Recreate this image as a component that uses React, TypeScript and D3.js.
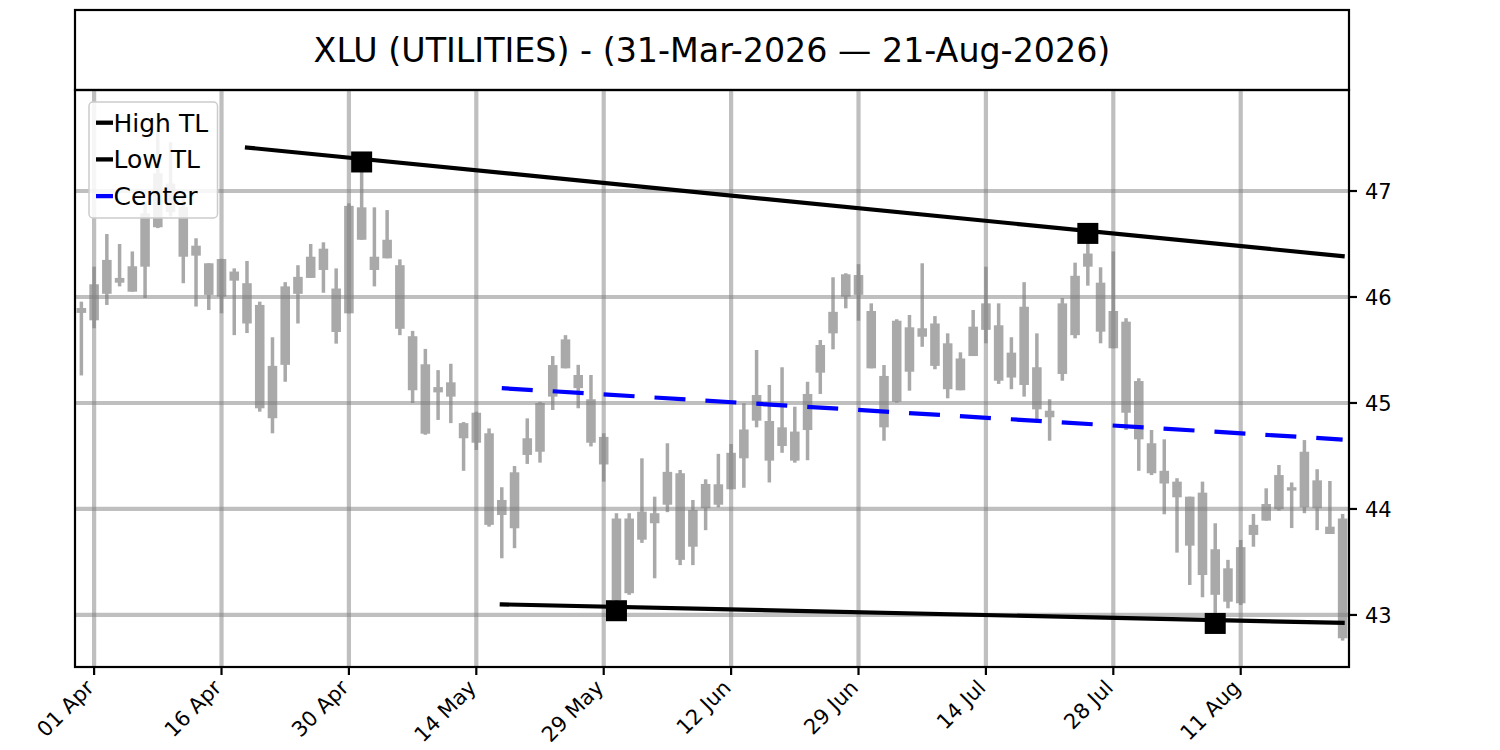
import * as d3 from "d3";

const W = 1500;
const H = 750;

// trading calendar: 31 Mar 2026 .. 21 Aug 2026, NYSE holidays skipped
const holidays = ["2026-04-03", "2026-05-25", "2026-06-19", "2026-07-03"];
const iso = d3.timeFormat("%Y-%m-%d");
const dates = d3.timeDay
  .range(new Date(2026, 2, 31), new Date(2026, 7, 22))
  .filter((d) => d.getDay() !== 0 && d.getDay() !== 6 && !holidays.includes(iso(d)))
  .map(iso);

const open = [
  45.896, 45.78, 46.03, 46.18, 46.05, 46.286, 46.658, 46.8, 46.85, 46.484,
  46.318, 46.003, 46.154, 46.13, 45.925, 45.35, 45.36, 46.03, 46.18, 46.255,
  46.08, 45.846, 46.54, 46.38, 46.365, 46.3, 45.63, 45.365, 45.1, 45.06,
  44.81, 44.625, 44.714, 44.085, 43.818, 44.51, 44.54, 45.06, 45.327, 45.264,
  45.035, 44.68, 43.91, 43.205, 43.71, 43.865, 44.04, 44.337, 43.99, 44.007,
  44.04, 44.186, 44.478, 44.833, 44.83, 44.594, 44.73, 44.745, 45.286, 45.657,
  46.003, 46.207, 45.868, 45.255, 45.012, 45.295, 45.625, 45.75, 45.563, 45.42,
  45.443, 45.69, 45.733, 45.475, 45.17, 45.337, 44.927, 45.274, 45.64, 46.286,
  46.135, 45.868, 45.767, 45.207, 44.62, 44.36, 44.258, 44.116, 44.154, 43.62,
  43.44, 43.11, 43.755, 43.89, 43.997, 44.173, 44.016, 44.27, 43.833, 43.91,
];
const high = [
  45.956, 46.286, 46.594, 46.5, 46.43, 46.9, 47.575, 47.46, 46.97, 46.554,
  46.318, 46.36, 46.27, 46.34, 45.956, 45.62, 46.14, 46.3, 46.5, 46.516,
  46.27, 46.884, 47.274, 46.846, 46.82, 46.355, 45.68, 45.51, 45.31, 45.37,
  44.82, 44.918, 44.76, 44.205, 44.405, 44.855, 45.01, 45.443, 45.64, 45.36,
  45.264, 44.714, 43.96, 43.96, 44.478, 44.116, 44.62, 44.368, 44.085, 44.28,
  44.52, 44.613, 44.997, 45.5, 45.17, 45.337, 44.965, 45.2, 45.594, 46.186,
  46.224, 46.31, 45.94, 45.358, 45.79, 45.83, 46.318, 45.82, 45.657, 45.478,
  45.877, 46.286, 45.94, 45.62, 46.14, 45.657, 45.035, 45.99, 46.324, 46.6,
  46.28, 46.43, 45.8, 45.233, 44.745, 44.657, 44.29, 44.116, 44.258, 43.865,
  43.52, 43.708, 43.953, 44.195, 44.415, 44.25, 44.65, 44.375, 44.264, 43.953,
];
const low = [
  45.26, 45.705, 45.925, 46.1, 46.05, 45.99, 46.65, 46.76, 46.13, 45.91,
  45.877, 45.846, 45.64, 45.66, 44.918, 44.714, 45.2, 45.75, 46.18, 46.04,
  45.56, 45.846, 46.54, 46.1, 46.365, 45.64, 45.0, 44.7, 44.84, 44.81,
  44.36, 44.557, 43.833, 43.535, 43.63, 44.425, 44.437, 44.934, 45.327, 44.95,
  44.59, 44.258, 43.04, 43.19, 43.68, 43.346, 43.97, 43.47, 43.47, 43.8,
  44.016, 44.186, 44.2, 44.77, 44.25, 44.53, 44.437, 44.46, 45.085, 45.506,
  45.893, 45.776, 45.327, 44.644, 45.003, 45.116, 45.53, 45.318, 45.044, 45.12,
  45.443, 45.563, 45.18, 45.13, 45.06, 44.814, 44.644, 45.21, 45.61, 46.107,
  45.563, 45.516, 44.745, 44.36, 44.32, 43.95, 43.588, 43.283, 43.167, 42.92,
  43.063, 43.094, 43.644, 43.89, 43.984, 43.82, 43.96, 43.8, 43.764, 42.758,
];
const close = [
  45.85, 46.12, 46.35, 46.135, 46.29, 46.79, 47.167, 47.07, 46.38, 46.39,
  46.02, 46.358, 46.24, 45.75, 44.95, 44.856, 46.1, 46.19, 46.38, 46.456,
  45.67, 46.86, 46.846, 46.255, 46.54, 45.7, 45.12, 44.71, 45.15, 45.195,
  44.667, 44.908, 43.85, 43.943, 44.346, 44.667, 45.0, 45.358, 45.6, 45.14,
  44.625, 44.42, 43.14, 43.91, 43.975, 43.96, 44.35, 43.52, 43.644, 44.236,
  44.233, 44.53, 44.75, 45.075, 44.456, 44.77, 44.456, 45.085, 45.547, 45.86,
  46.214, 46.02, 45.327, 44.77, 45.776, 45.714, 45.705, 45.35, 45.13, 45.12,
  45.72, 45.94, 45.21, 45.24, 45.908, 44.94, 44.865, 45.94, 46.2, 46.41,
  45.673, 45.516, 44.908, 44.657, 44.337, 44.24, 44.11, 43.654, 43.377, 43.19,
  43.125, 43.64, 43.85, 44.047, 44.32, 44.205, 44.54, 44.007, 43.764, 42.78,
];

// trend lines (start / end) and the pivots they were drawn through
const highTL: [string, number][] = [["2026-04-20", 47.41], ["2026-08-21", 46.385]];
const lowTL: [string, number][] = [["2026-05-18", 43.1], ["2026-08-21", 42.925]];
const centerTL: [string, number][] = [["2026-05-18", 45.14], ["2026-08-21", 44.655]];
const highPivots = ["2026-05-01", "2026-07-24"];
const lowPivots = ["2026-06-01", "2026-08-07"];

const tickLabels = ["01 Apr", "16 Apr", "30 Apr", "14 May", "29 May", "12 Jun", "29 Jun", "14 Jul", "28 Jul", "11 Aug"];
const yTicks = [43, 44, 45, 46, 47];
const title = "XLU (UTILITIES) - (31-Mar-2026 \u2014 21-Aug-2026)";

const legendItems = [
  { label: "High TL", color: "#000000" },
  { label: "Low TL", color: "#000000" },
  { label: "Center", color: "#0000ff" },
];

const M = { left: 75, right: 1349, top: 90, bottom: 667, titleTop: 10 };
const FONT = "DejaVu Sans, sans-serif";
const CANDLE = "#a9a9a9";

export default function App() {
  const x = d3
    .scaleBand<string>()
    .domain(dates)
    .range([M.left, M.right])
    .paddingInner(0.25)
    .paddingOuter(0.125);
  const bw = x.bandwidth();
  const cx = (d: string) => (x(d) ?? 0) + bw / 2;

  const y = d3.scaleLinear().domain([42.509, 47.953]).range([M.bottom, M.top]);

  const line = d3
    .line<[string, number]>()
    .x((d) => cx(d[0]))
    .y((d) => y(d[1]));

  const fmtTick = d3.timeFormat("%d %b");
  const parse = d3.timeParse("%Y-%m-%d");
  const ticks = tickLabels.map((lab) => ({
    lab,
    d: dates.find((d) => fmtTick(parse(d)!) === lab)!,
  }));

  const idx = (d: string) => dates.indexOf(d);

  return (
    <svg
      width={W}
      height={H}
      style={{ position: "absolute", left: 0, top: 0, background: "#fff" }}
      fontFamily={FONT}
    >
      <rect x={0} y={0} width={W} height={H} fill="#fff" />

      {/* title box */}
      <rect
        x={M.left}
        y={M.titleTop}
        width={M.right - M.left}
        height={M.top - M.titleTop}
        fill="none"
        stroke="#000"
        strokeWidth={2.2}
      />
      <text x={(M.left + M.right) / 2} y={62} textAnchor="middle" fontSize={33.3} fill="#000">
        {title}
      </text>

      <defs>
        <clipPath id="plot">
          <rect x={M.left} y={M.top} width={M.right - M.left} height={M.bottom - M.top} />
        </clipPath>
      </defs>

      <g clipPath="url(#plot)">
        {/* candles */}
        {dates.map((d, i) => (
          <rect
            key={"w" + d}
            x={cx(d) - 1.75}
            y={y(high[i])}
            width={3.5}
            height={y(low[i]) - y(high[i])}
            fill={CANDLE}
          />
        ))}
        {dates.map((d, i) => {
          const top = y(Math.max(open[i], close[i]));
          const bot = y(Math.min(open[i], close[i]));
          return (
            <rect
              key={"b" + d}
              x={x(d)}
              y={top}
              width={bw}
              height={Math.max(bot - top, 1.5)}
              fill={CANDLE}
            />
          );
        })}

        {/* grid */}
        <g stroke="#808080" strokeOpacity={0.5} strokeWidth={4.2}>
          {ticks.map((t) => (
            <line key={t.lab} x1={cx(t.d)} x2={cx(t.d)} y1={M.top} y2={M.bottom} />
          ))}
          {yTicks.map((v) => (
            <line key={v} x1={M.left} x2={M.right} y1={y(v)} y2={y(v)} />
          ))}
        </g>

        {/* trend lines */}
        <path d={line(highTL)!} fill="none" stroke="#000" strokeWidth={4.2} strokeLinecap="square" />
        <path d={line(lowTL)!} fill="none" stroke="#000" strokeWidth={4.2} strokeLinecap="square" />
        <path
          d={line(centerTL)!}
          fill="none"
          stroke="#0000ff"
          strokeWidth={4.2}
          strokeDasharray="31 20"
        />

        {/* pivot markers */}
        {highPivots.map((d) => (
          <rect key={d} x={cx(d) - 10.5} y={y(high[idx(d)]) - 10.5} width={21} height={21} fill="#000" />
        ))}
        {lowPivots.map((d) => (
          <rect key={d} x={cx(d) - 10.5} y={y(low[idx(d)]) - 10.5} width={21} height={21} fill="#000" />
        ))}
      </g>

      {/* legend */}
      <g>
        <rect
          x={89}
          y={102}
          width={128.5}
          height={116}
          rx={4}
          fill="#fff"
          fillOpacity={0.85}
          stroke="#cccccc"
          strokeWidth={1.5}
        />
        {legendItems.map((it, i) => (
          <g key={it.label} transform={`translate(0, ${131.7 + i * 36.7})`}>
            <line x1={96} x2={113} y1={-9} y2={-9} stroke={it.color} strokeWidth={4.3} />
            <text x={113.5} y={0} fontSize={25} fill="#000">
              {it.label}
            </text>
          </g>
        ))}
      </g>

      {/* frame */}
      <rect
        x={M.left}
        y={M.top}
        width={M.right - M.left}
        height={M.bottom - M.top}
        fill="none"
        stroke="#000"
        strokeWidth={2.2}
      />

      {/* y axis (right) */}
      {yTicks.map((v) => (
        <g key={v}>
          <line x1={M.right} x2={M.right + 8} y1={y(v)} y2={y(v)} stroke="#000" strokeWidth={2.2} />
          <text x={M.right + 16} y={y(v)} dy="0.36em" fontSize={21} fill="#000">
            {v}
          </text>
        </g>
      ))}

      {/* x axis */}
      {ticks.map((t) => (
        <g key={t.lab}>
          <line x1={cx(t.d)} x2={cx(t.d)} y1={M.bottom} y2={M.bottom + 8} stroke="#000" strokeWidth={2.2} />
          <text
            transform={`translate(${cx(t.d) + 1}, ${M.bottom + 22}) rotate(-45)`}
            textAnchor="end"
            fontSize={21}
            fill="#000"
          >
            {t.lab}
          </text>
        </g>
      ))}
    </svg>
  );
}
